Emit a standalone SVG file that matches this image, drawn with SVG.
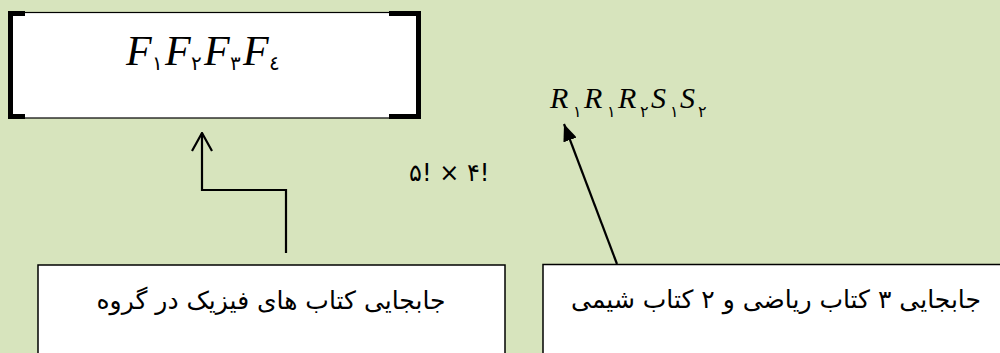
<svg xmlns="http://www.w3.org/2000/svg" width="1000" height="353" viewBox="0 0 1000 353">
<defs>
<style>
.bg{fill:#d7e4bd}
.box{fill:#ffffff;stroke:#000000;stroke-width:1.5}
.br{fill:#000000}
.math{font-family:"Liberation Serif",serif;font-style:italic;fill:#000000}
.sub{font-family:"DejaVu Sans",sans-serif;fill:#000000}
.fa{font-family:"DejaVu Sans","Liberation Serif",sans-serif;font-size:25px;fill:#000000}
.conn{fill:none;stroke:#000000;stroke-width:2.2}
</style>
<marker id="openArrow" viewBox="0 0 20 22" markerWidth="20" markerHeight="22" refX="19" refY="11" orient="auto" markerUnits="userSpaceOnUse">
<path d="M1,1 L19,11 L1,21" fill="none" stroke="#000000" stroke-width="2.2"/>
</marker>
<marker id="fillArrow" viewBox="0 0 17 14" markerWidth="17" markerHeight="14" refX="17" refY="7" orient="auto" markerUnits="userSpaceOnUse">
<path d="M0,0 L17,7 L0,14 Z" fill="#000000"/>
</marker>
</defs>
<rect class="bg" x="0" y="0" width="1000" height="353"/>

<g id="node-top">
<rect x="9" y="12.5" width="411" height="105.5" fill="#ffffff" stroke="#000000" stroke-width="1.2"/>
<rect class="br" x="8" y="11" width="5" height="108"/>
<rect class="br" x="8" y="11" width="17" height="5"/>
<rect class="br" x="8" y="114" width="17" height="5"/>
<rect class="br" x="416" y="11" width="5" height="108"/>
<rect class="br" x="389" y="11" width="32" height="5"/>
<rect class="br" x="389" y="114" width="32" height="5"/>
<text class="math" font-size="42"><tspan x="126" y="65">F</tspan><tspan x="165" y="65">F</tspan><tspan x="204" y="65">F</tspan><tspan x="243" y="65">F</tspan></text>
<text class="sub" font-size="20"><tspan x="152" y="70">١</tspan><tspan x="191" y="70">٢</tspan><tspan x="230" y="70">٣</tspan><tspan x="269" y="70">٤</tspan></text>
</g>

<g id="node-rs">
<text class="math" font-size="30"><tspan x="550" y="108">R</tspan><tspan x="584" y="108">R</tspan><tspan x="618" y="108">R</tspan><tspan x="651" y="108">S</tspan><tspan x="680" y="108">S</tspan></text>
<text class="sub" font-size="16"><tspan x="573" y="117">١</tspan><tspan x="607" y="117">١</tspan><tspan x="640" y="117">٢</tspan><tspan x="670" y="117">١</tspan><tspan x="698" y="117">٢</tspan></text>
</g>

<g id="label-count">
<text class="sub" font-size="24" x="409" y="181">۵! × ۴!</text>
</g>

<g id="node-physics">
<rect class="box" x="38" y="265" width="467" height="100"/>
<text class="fa" x="271" y="309" text-anchor="middle" direction="rtl">جابجایی کتاب های فیزیک در گروه</text>
</g>

<g id="node-mathchem">
<rect class="box" x="543" y="264.5" width="470" height="100"/>
<text class="fa" x="776" y="308" text-anchor="middle" direction="rtl">جابجایی ۳ کتاب ریاضی و ۲ کتاب شیمی</text>
</g>

<g id="connectors">
<polyline class="conn" points="286,253 286,190 202,190 202,133" marker-end="url(#openArrow)"/>
<line class="conn" x1="617" y1="264" x2="564" y2="124" marker-end="url(#fillArrow)"/>
</g>
</svg>
